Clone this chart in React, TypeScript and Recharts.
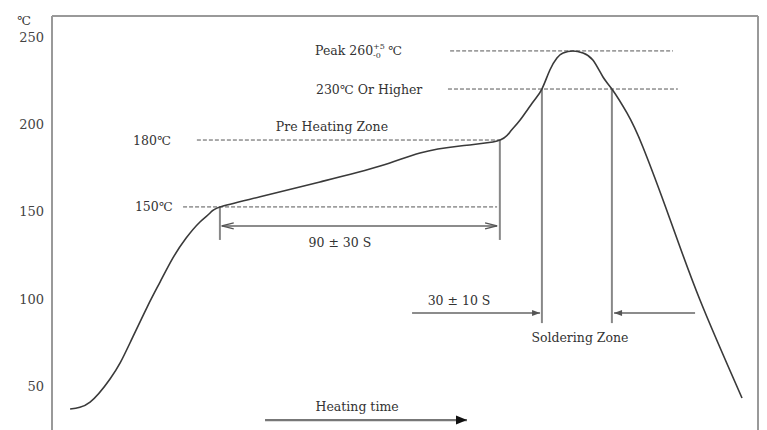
import { LineChart, Line, XAxis, YAxis, ReferenceLine, ReferenceDot } from 'recharts'

// reflow profile: time (s) and temperature (°C)
const TIME = [5.9, 12.4, 18.9, 22.2, 25.4, 31.0, 35.2, 39.4, 43.7, 48.2, 51.5, 54.7, 67.8, 87.3, 106.9, 119.9, 132.9, 145.0, 149.2, 152.5, 156.7, 159.6, 162.2, 164.5, 166.5, 169.7, 173.0, 176.2, 179.5, 182.4, 187.3, 192.5, 201.3, 211.1, 224.8]
const TEMP = [37.0, 41.0, 54.2, 63.4, 74.8, 95.4, 109.7, 123.5, 134.9, 144.1, 149.2, 152.7, 158.5, 167.0, 176.1, 183.6, 187.6, 190.4, 195.6, 202.5, 212.8, 220.2, 231.1, 238.0, 240.8, 242.0, 240.8, 236.8, 227.1, 220.2, 206.5, 187.0, 145.8, 99.4, 43.3]

const Y_TICKS = [50, 100, 150, 200, 250]
const TIME_DOMAIN = [0, 230]
const TEMP_DOMAIN = [25, 262]

// dashed level lines: temperature, start time, end time
const LEVELS = [
  { y: 242.0, from: 129.7, to: 202.3 },
  { y: 220.2, from: 129.0, to: 203.9 },
  { y: 191.0, from: 47.2, to: 145.9 },
  { y: 152.7, from: 42.7, to: 145.0 },
]

// vertical markers: time, top temp, bottom temp
const MARKERS = [
  { x: 54.7, from: 152.7, to: 133.8 },
  { x: 145.9, from: 191.0, to: 133.8 },
  { x: 159.6, from: 220.2, to: 86.2 },
  { x: 182.4, from: 220.2, to: 86.2 },
]

// arrows: temperature, start time, end time (head at end)
const ARROWS = [
  { y: 141.8, from: 55.3, to: 145.0, both: true, kind: 'open' },
  { y: 92.0, from: 117.3, to: 159.0, both: false, kind: 'small' },
  { y: 92.0, from: 209.5, to: 183.1, both: false, kind: 'small' },
  { y: 30.7, from: 69.4, to: 135.2, both: false, kind: 'bold' },
]

const NOTES = [
  { text: 'Pre Heating Zone', t: 91.2, T: 198.5, anchor: 'middle' },
  { text: '90 ± 30 S', t: 93.8, T: 132.6, anchor: 'middle' },
  { text: '30 ± 10 S', t: 132.6, T: 99.4, anchor: 'middle' },
  { text: 'Soldering Zone', t: 172.0, T: 78.2, anchor: 'middle' },
  { text: 'Heating time', t: 99.4, T: 38.2, anchor: 'middle' },
  { text: '180℃', t: 26.4, T: 191.0, anchor: 'start' },
  { text: '150℃', t: 27.0, T: 152.7, anchor: 'start' },
  { text: '230℃ Or Higher', t: 86.0, T: 220.2, anchor: 'start' },
]

const data = TIME.map((t, i) => ({ t, temp: TEMP[i] }))

const FONT = '"DejaVu Serif", serif'
const INK = '#333'

const arrowShape = (both: boolean, kind: string) => (p: any) => {
  const { x1, y1, x2, y2 } = p
  const ang = Math.atan2(y2 - y1, x2 - x1)
  const len = kind === 'bold' ? 11 : kind === 'open' ? 12 : 8
  const half = kind === 'bold' ? 4.5 : 3
  const head = (hx: number, hy: number, a: number) => {
    const bx = hx - len * Math.cos(a)
    const by = hy - len * Math.sin(a)
    const nx = -Math.sin(a) * half
    const ny = Math.cos(a) * half
    const pts = `${bx + nx},${by + ny} ${hx},${hy} ${bx - nx},${by - ny}`
    return kind === 'open'
      ? <polyline points={pts} fill="none" stroke="#555" strokeWidth={1.3} />
      : <polygon points={pts} fill={kind === 'bold' ? '#111' : '#555'} />
  }
  return (
    <g>
      <line x1={x1} y1={y1} x2={x2} y2={y2} stroke={kind === 'bold' ? '#777' : '#666'} strokeWidth={kind === 'bold' ? 2.2 : 1.5} />
      {head(x2, y2, ang)}
      {both && head(x1, y1, ang + Math.PI)}
    </g>
  )
}

const noteShape = (text: string, anchor: string) => (p: any) => (
  <text x={p.cx} y={p.cy} textAnchor={anchor} dominantBaseline="central" fontFamily={FONT} fontSize={12.5} fill={INK}>
    {text}
  </text>
)

const peakShape = (p: any) => (
  <g fontFamily={FONT} fill={INK}>
    <text x={p.cx} y={p.cy} dominantBaseline="central" fontSize={12.5}>Peak 260</text>
    <text x={p.cx + 58} y={p.cy - 4} dominantBaseline="central" fontSize={8}>+5</text>
    <text x={p.cx + 58} y={p.cy + 5} dominantBaseline="central" fontSize={8}>-0</text>
    <text x={p.cx + 73} y={p.cy} dominantBaseline="central" fontSize={12.5}>℃</text>
  </g>
)

export default function App() {
  return (
    <div style={{ position: 'absolute', left: 0, top: 0, width: 767, height: 430, background: '#fff' }}>
      <LineChart width={767} height={430} data={data} margin={{ top: 16, right: 9, bottom: 0, left: 0 }}>
        <XAxis type="number" dataKey="t" domain={TIME_DOMAIN} hide allowDataOverflow />
        <YAxis
          type="number"
          domain={TEMP_DOMAIN}
          ticks={Y_TICKS}
          width={52}
          allowDataOverflow
          tickLine={false}
          axisLine={{ stroke: '#999', strokeWidth: 2 }}
          tick={{ fill: '#444', fontSize: 13, fontFamily: FONT }}
        />
        {/* frame: top and right */}
        <ReferenceLine y={TEMP_DOMAIN[1]} stroke="#999" strokeWidth={2} />
        <ReferenceLine x={TIME_DOMAIN[1]} stroke="#999" strokeWidth={2} />

        {LEVELS.map((l, i) => (
          <ReferenceLine
            key={`lv-${i}`}
            segment={[{ x: l.from, y: l.y }, { x: l.to, y: l.y }]}
            stroke="#555"
            strokeWidth={1}
            strokeDasharray="4 2"
          />
        ))}
        {MARKERS.map((m, i) => (
          <ReferenceLine
            key={`mk-${i}`}
            segment={[{ x: m.x, y: m.from }, { x: m.x, y: m.to }]}
            stroke="#888"
            strokeWidth={2}
          />
        ))}
        {ARROWS.map((a, i) => (
          <ReferenceLine
            key={`ar-${i}`}
            segment={[{ x: a.from, y: a.y }, { x: a.to, y: a.y }]}
            shape={arrowShape(a.both, a.kind)}
          />
        ))}

        <Line
          type="natural"
          dataKey="temp"
          stroke="#3a3a3a"
          strokeWidth={1.6}
          dot={false}
          isAnimationActive={false}
        />

        {NOTES.map((n, i) => (
          <ReferenceDot key={`nt-${i}`} x={n.t} y={n.T} r={1} shape={noteShape(n.text, n.anchor)} />
        ))}
        <ReferenceDot x={85.7} y={242.0} r={1} shape={peakShape} />
        <ReferenceDot x={-9.1} y={259.7} r={1} ifOverflow="visible" shape={noteShape('℃', 'middle')} />
      </LineChart>
    </div>
  )
}
